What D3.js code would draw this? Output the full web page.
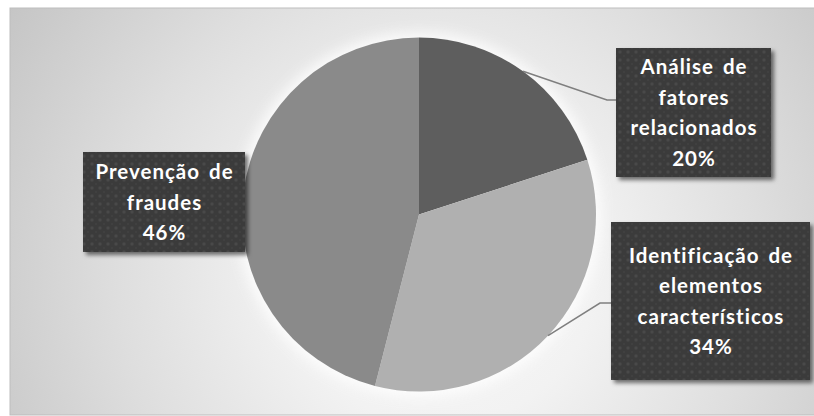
<!DOCTYPE html>
<html>
<head>
<meta charset="utf-8">
<script src="https://cdn.jsdelivr.net/npm/d3@7"></script>
<style>
  html, body { margin: 0; padding: 0; background: #ffffff; }
  svg { display: block; }
  .lbl {
    font-family: Lato, "Open Sans", sans-serif; font-weight: 700; fill: #ffffff;
    font-variant-ligatures: none; font-feature-settings: "liga" 0;
    letter-spacing: 1px; word-spacing: 3px;
  }
</style>
</head>
<body>
<svg id="chart" width="814" height="416"></svg>
<script>
// Share of each purpose (percent), drawn clockwise from 12 o'clock
const categories = [
  "Análise de fatores relacionados",
  "Identificação de elementos característicos",
  "Prevenção de fraudes"
];
const shares = [20, 34, 46];
const labelLines = [
  ["Análise de", "fatores", "relacionados"],
  ["Identificação de", "elementos", "característicos"],
  ["Prevenção de", "fraudes"]
];
const sliceColors = ["#5e5e5e", "#b0b0b0", "#8a8a8a"];

// Layout
const W = 814, H = 416;
const cx = 419, cy = 214.5, R = 177;
const boxes = [
  { x: 616, y: 48,  w: 155, h: 129, elbowX: 607, lineY: 100, leader: true },
  { x: 611, y: 222, w: 199, h: 158, elbowX: 600, lineY: 303, leader: true },
  { x: 83,  y: 152, w: 162, h: 100, leader: false }
];
const lineGap = 30.5;

const svg = d3.select("#chart");
const defs = svg.append("defs");

// Background gradient of the chart area
const bg = defs.append("radialGradient")
  .attr("id", "bgGrad").attr("gradientUnits", "userSpaceOnUse")
  .attr("cx", 440).attr("cy", 270).attr("r", 520);
[[0, "#f9f9f9"], [0.3, "#f2f2f2"], [0.62, "#dedede"], [1, "#c3c3c3"]]
  .forEach(([o, c]) => bg.append("stop").attr("offset", o).attr("stop-color", c));

// Soft glow behind the pie
defs.append("filter").attr("id", "glow")
  .attr("x", "-30%").attr("y", "-30%").attr("width", "160%").attr("height", "160%")
  .append("feGaussianBlur").attr("stdDeviation", 7);

// Drop shadow for label boxes
const sh = defs.append("filter").attr("id", "boxShadow")
  .attr("x", "-10%").attr("y", "-10%").attr("width", "130%").attr("height", "130%");
sh.append("feDropShadow").attr("dx", 3).attr("dy", 3).attr("stdDeviation", 2)
  .attr("flood-color", "#000").attr("flood-opacity", 0.55);

// Dotted texture for label boxes
const pat = defs.append("pattern").attr("id", "dots")
  .attr("patternUnits", "userSpaceOnUse").attr("width", 8).attr("height", 8);
pat.append("rect").attr("width", 8).attr("height", 8).attr("fill", "#3a3a3a");
pat.append("circle").attr("cx", 4).attr("cy", 4).attr("r", 1.7).attr("fill", "#484848");
pat.append("circle").attr("cx", 0).attr("cy", 0).attr("r", 1.1).attr("fill", "#424242");
pat.append("circle").attr("cx", 8).attr("cy", 0).attr("r", 1.1).attr("fill", "#424242");
pat.append("circle").attr("cx", 0).attr("cy", 8).attr("r", 1.1).attr("fill", "#424242");
pat.append("circle").attr("cx", 8).attr("cy", 8).attr("r", 1.1).attr("fill", "#424242");

// Chart area
svg.append("rect")
  .attr("x", 10).attr("y", 8).attr("width", W - 10 + 2).attr("height", H - 9)
  .attr("fill", "url(#bgGrad)").attr("stroke", "#bdbdbd").attr("stroke-width", 1);

// Glow
svg.append("circle").attr("cx", cx).attr("cy", cy).attr("r", R + 5)
  .attr("fill", "#ffffff").attr("opacity", 0.85).attr("filter", "url(#glow)");

// Pie
const pie = d3.pie().sort(null).value(d => d);
const arcs = pie(shares);
const arc = d3.arc().innerRadius(0).outerRadius(R);
const g = svg.append("g").attr("transform", `translate(${cx},${cy})`);
g.selectAll("path.slice").data(arcs).join("path")
  .attr("class", "slice")
  .attr("d", arc)
  .attr("fill", (d, i) => sliceColors[i]);

// Leader lines from the slice edge to the label boxes
const edgeArc = d3.arc().innerRadius(R).outerRadius(R);
arcs.forEach((a, i) => {
  const b = boxes[i];
  if (!b.leader) return;
  const [ex, ey] = edgeArc.centroid(a);
  svg.append("polyline")
    .attr("points", [[cx + ex, cy + ey], [b.elbowX, b.lineY], [b.x, b.lineY]].map(p => p.join(",")).join(" "))
    .attr("fill", "none").attr("stroke", "#7f7f7f").attr("stroke-width", 1.5);
});

// Label boxes
arcs.forEach((a, i) => {
  const b = boxes[i];
  const lg = svg.append("g");
  lg.append("rect")
    .attr("x", b.x).attr("y", b.y).attr("width", b.w).attr("height", b.h)
    .attr("fill", "url(#dots)").attr("filter", "url(#boxShadow)");
  const lines = labelLines[i].concat([d3.format(".0%")(a.data / 100)]);
  const total = (lines.length - 1) * lineGap;
  const midX = b.x + b.w / 2;
  const firstBase = b.y + b.h / 2 - total / 2 + 7.5;
  lg.append("text").attr("class", "lbl")
    .attr("text-anchor", "middle")
    .attr("font-size", 20.5)
    .selectAll("tspan").data(lines).join("tspan")
    .attr("x", midX + 0.5)
    .attr("y", (d, k) => firstBase + k * lineGap)
    .text(d => d);
});
</script>
</body>
</html>
